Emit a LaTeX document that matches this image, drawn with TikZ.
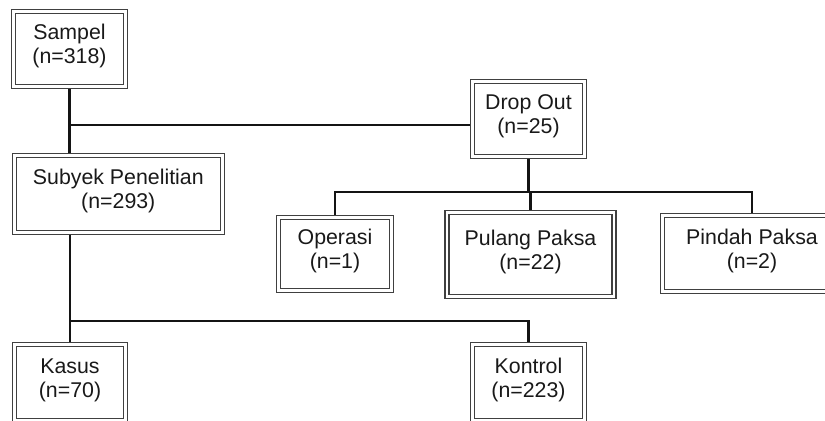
\documentclass[tikz,border=0pt]{standalone}
\usepackage{fontspec}
\setmainfont{Liberation Sans}
\begin{document}
\begin{tikzpicture}[x=0.75pt,y=-0.75pt,
  dbox/.style={draw=black!75, line width=0.8pt, double=white, double distance=2.2pt,
    outer sep=1.9pt, inner sep=0pt, align=center, text=black!90, text depth=7.5pt,
    font=\fontsize{16}{18.2}\selectfont},
  link/.style={draw=black!92, line width=1.7pt}]
\useasboundingbox (0,0) rectangle (825,421);
% boxes
\node[dbox, minimum width=84pt, minimum height=56.25pt] (sampel) at (69.5,49) {Sampel\\(n=318)};
\node[dbox, minimum width=156.2pt, minimum height=58pt] (subyek) at (118.3,193.8) {Subyek Penelitian\\(n=293)};
\node[dbox, minimum width=83.8pt, minimum height=56.25pt] (dropout) at (528.5,119.3) {Drop Out\\(n=25)};
\node[dbox, minimum width=84.75pt, minimum height=54.75pt] (operasi) at (335,254) {Operasi\\(n=1)};
\node[dbox, minimum width=125.25pt, minimum height=63pt] (pulang) at (530.5,254.5) {Pulang Paksa\\(n=22)};
\node[dbox, minimum width=134.25pt, minimum height=57.5pt] (pindah) at (752,253.5) {Pindah Paksa\\(n=2)};
\node[dbox, minimum width=83.8pt, minimum height=57pt] (kasus) at (70,382.8) {Kasus\\(n=70)};
\node[dbox, minimum width=83.8pt, minimum height=57pt] (kontrol) at (528.5,382.5) {Kontrol\\(n=223)};
% connectors
\path (sampel.south) ++(0,36) coordinate (j1);
\draw[link] (sampel.south) -- (sampel.south |- subyek.north);
\draw[link] (j1) -- (j1 -| dropout.west);
\path (dropout.south) ++(0,32.5) coordinate (b1);
\draw[link] (dropout.south) -- (b1);
\draw[link] (operasi.north) |- (b1) -| (pindah.north);
\draw[link] (pulang.north) -- (pulang.north |- b1);
\path (kasus.north |- subyek.south) ++(0,86) coordinate (j2);
\draw[link] (kasus.north |- subyek.south) -- (kasus.north);
\draw[link] (j2) -| (kontrol.north);
\end{tikzpicture}
\end{document}
